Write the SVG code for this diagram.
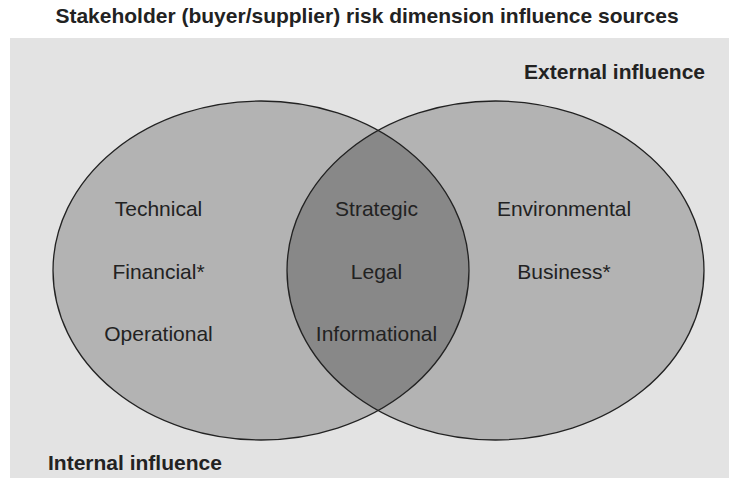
<svg xmlns="http://www.w3.org/2000/svg" width="729" height="478" viewBox="0 0 729 478">
<style>
.t{font-family:"Liberation Sans",Arial,sans-serif;font-size:21px;fill:#222;text-anchor:middle}
.b{font-family:"Liberation Sans",Arial,sans-serif;font-size:21px;font-weight:bold;fill:#222}
.edge{fill:none;stroke:#222;stroke-width:1.3}
</style>
<defs>
<clipPath id="clipL"><ellipse cx="261" cy="270.5" rx="208" ry="169.5"/></clipPath>
</defs>
<rect x="0" y="0" width="729" height="478" fill="#ffffff"/>
<rect x="10" y="38" width="719" height="440" fill="#e3e3e3"/>
<text class="b" x="367" y="23" text-anchor="middle">Stakeholder (buyer/supplier) risk dimension influence sources</text>
<text class="b" x="705" y="79" text-anchor="end">External influence</text>
<text class="b" x="48" y="470">Internal influence</text>
<g id="internal">
<ellipse cx="261" cy="270.5" rx="208" ry="169.5" fill="#b3b3b3"/>
</g>
<g id="external">
<ellipse cx="495.5" cy="270.5" rx="208.5" ry="169.5" fill="#b3b3b3"/>
</g>
<g id="overlap">
<ellipse cx="495.5" cy="270.5" rx="208.5" ry="169.5" fill="#888888" clip-path="url(#clipL)"/>
</g>
<g id="connectors">
<ellipse class="edge" cx="261" cy="270.5" rx="208" ry="169.5"/>
<ellipse class="edge" cx="495.5" cy="270.5" rx="208.5" ry="169.5"/>
</g>
<g id="internal-labels">
<text class="t" x="158.5" y="216">Technical</text>
<text class="t" x="158.5" y="279">Financial*</text>
<text class="t" x="158.5" y="341">Operational</text>
</g>
<g id="overlap-labels">
<text class="t" x="376.5" y="216">Strategic</text>
<text class="t" x="376.5" y="279">Legal</text>
<text class="t" x="376.5" y="341">Informational</text>
</g>
<g id="external-labels">
<text class="t" x="564" y="216">Environmental</text>
<text class="t" x="564" y="279">Business*</text>
</g>
</svg>
